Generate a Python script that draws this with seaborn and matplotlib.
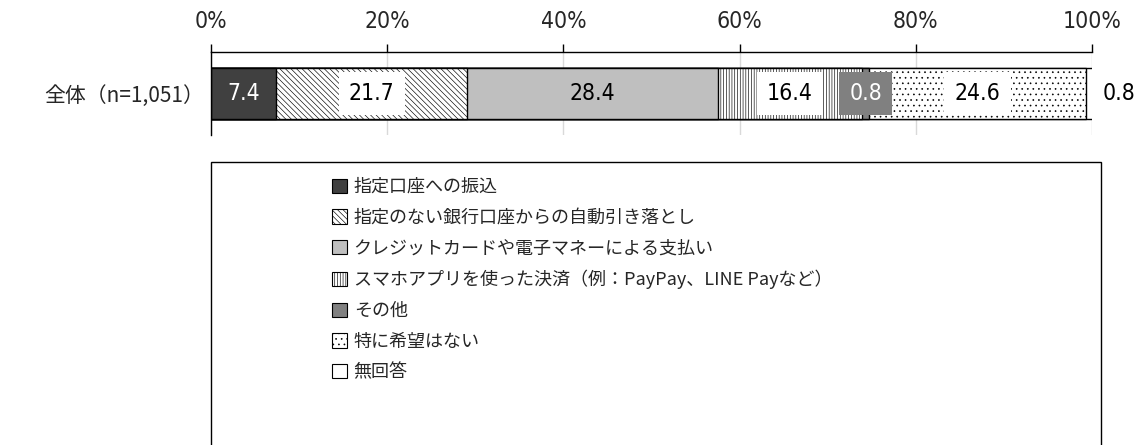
import matplotlib
matplotlib.use("Agg")
import matplotlib.pyplot as plt
import matplotlib.patches as mpatches
from matplotlib import font_manager
import numpy as np
import seaborn as sns

# --- data ---------------------------------------------------------------
row_label = "全体（n=1,051）"
categories = [
    "指定口座への振込",
    "指定のない銀行口座からの自動引き落とし",
    "クレジットカードや電子マネーによる支払い",
    "スマホアプリを使った決済（例：PayPay、LINE Payなど）",
    "その他",
    "特に希望はない",
    "無回答",
]
values = [7.4, 21.7, 28.4, 16.4, 0.8, 24.6, 0.8]
tick_values = [0, 20, 40, 60, 80, 100]
tick_labels = ["0%", "20%", "40%", "60%", "80%", "100%"]

# --- styles -------------------------------------------------------------
colors = ["#404040", "white", "#bfbfbf", "white", "#808080", "white", "white"]
hatches = [None, "\\\\\\\\\\\\", None, "||||||", None, "...", None]
# label style: (text colour, box colour or None)
label_style = [
    ("white", None),
    ("black", "white"),
    ("black", None),
    ("black", "white"),
    ("white", "#808080"),
    ("black", "white"),
    ("black", None),
]

# narrow font for the numbers, if one is installed
condensed = [f for f in font_manager.fontManager.ttflist
             if "narrow" in f.name.lower() or "condensed" in str(f.stretch).lower()
             or "condensed" in f.name.lower()]
if condensed:
    num_font = dict(family=[condensed[0].name, "DejaVu Sans"], stretch=condensed[0].stretch)
    num_size = 16.5
else:
    num_font = dict(family=["Noto Sans", "DejaVu Sans"])
    num_size = 14.5

sns.set_style("white")
plt.rcParams["font.family"] = ["Noto Sans CJK JP", "DejaVu Sans"]
plt.rcParams["hatch.linewidth"] = 0.45

fig = plt.figure(figsize=(11.41, 4.45), dpi=100)
ax = fig.add_axes([211 / 1141, 1 - 135 / 445, (1092 - 211) / 1141, (135 - 52) / 445])

cum = np.cumsum(values)
# stacked bars: draw the cumulative totals from largest to smallest
for i in reversed(range(len(values))):
    sns.barplot(x=[cum[i]], y=[row_label], orient="h", color=colors[i],
                saturation=1, width=0.62, edgecolor="black", linewidth=1.0,
                hatch=hatches[i], ax=ax)

ax.set_xlim(0, 100)
ax.set_ylim(0.5, -0.5)

# value labels
starts = cum - np.array(values)
for i, (v, s) in enumerate(zip(values, starts)):
    tc, bc = label_style[i]
    x = s + v / 2
    ha = "center"
    if i == len(values) - 1:
        x = 101.2
        ha = "left"
    bbox = None
    if bc is not None:
        bbox = dict(boxstyle="square,pad=0.45", fc=bc, ec="none")
    ax.text(x, 0, f"{v:.1f}", ha=ha, va="center", color=tc, fontsize=num_size,
            bbox=bbox, clip_on=False, zorder=5, **num_font)

# axes styling
ax.xaxis.tick_top()
ax.set_xticks(tick_values)
ax.set_xticklabels(tick_labels, fontsize=num_size, **num_font)
ax.tick_params(axis="x", direction="out", length=6, width=1, color="black", pad=8)
ax.grid(axis="x", color="#d9d9d9", linewidth=1)
ax.set_axisbelow(True)
ax.set_xlabel("")
ax.set_ylabel("")
ax.set_yticks([0])
ax.set_yticklabels([row_label], fontsize=15)
ax.tick_params(axis="y", length=0, pad=5)
ax.set_yticks([-0.5, 0.5], minor=True)
ax.tick_params(axis="y", which="minor", length=7, width=1, color="black", direction="out")
for side in ["right", "bottom"]:
    ax.spines[side].set_visible(False)
for side in ["top", "left"]:
    ax.spines[side].set_color("black")
    ax.spines[side].set_linewidth(1)

# legend box (runs past the bottom of the figure)
box = mpatches.Rectangle((211 / 1141, -0.05), (1101 - 211) / 1141, 1 - 162 / 445 + 0.05,
                         transform=fig.transFigure, fill=False, ec="black", lw=1)
fig.add_artist(box)

handles = [mpatches.Patch(facecolor=c, edgecolor="black", hatch=h, linewidth=0.8)
           for c, h in zip(colors, hatches)]
fig.legend(handles, categories, loc="upper left",
           bbox_to_anchor=(323 / 1141, 1 - 169 / 445), frameon=False,
           fontsize=13, handlelength=0.85, handleheight=0.85, handletextpad=0.35,
           labelspacing=0.70, borderpad=0)

fig.savefig("out.png", dpi=100)
